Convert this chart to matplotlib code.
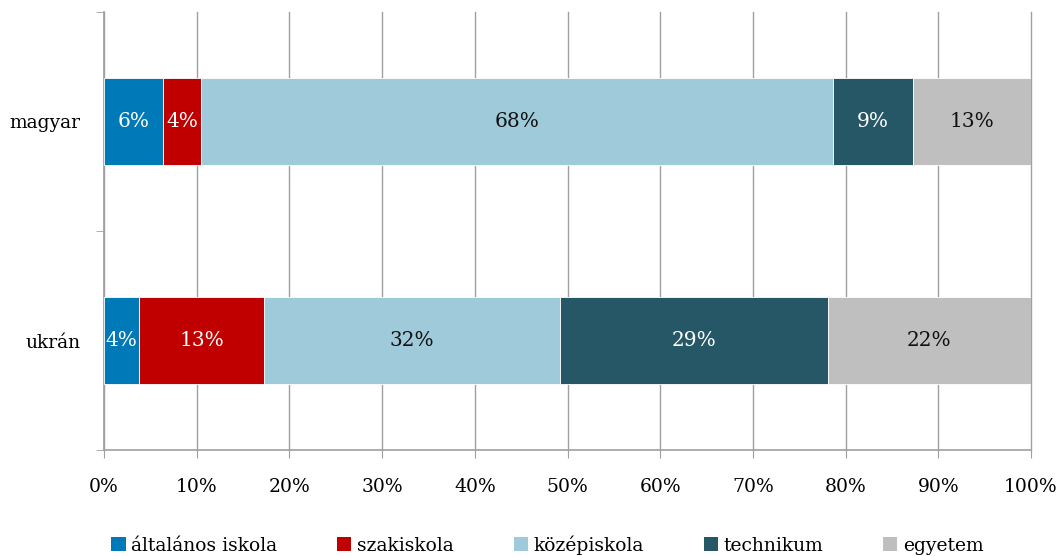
import numpy as np
import matplotlib.pyplot as plt
from matplotlib.patches import Patch

categories = ['magyar', 'ukrán']
series = ['általános iskola', 'szakiskola', 'középiskola', 'technikum', 'egyetem']
# shares (percent)
values = {
    'általános iskola': [6.4, 3.8],
    'szakiskola':       [4.1, 13.5],
    'középiskola':      [68.1, 31.9],
    'technikum':        [8.7, 28.9],
    'egyetem':          [12.7, 21.9],
}
labels = {
    'általános iskola': ['6%', '4%'],
    'szakiskola':       ['4%', '13%'],
    'középiskola':      ['68%', '32%'],
    'technikum':        ['9%', '29%'],
    'egyetem':          ['13%', '22%'],
}
colors = ['#0079B9', '#C00000', '#9FCAD9', '#265767', '#BFBFBF']
text_colors = ['white', 'white', '#111111', 'white', '#111111']
xticks = np.arange(0, 101, 10)

plt.rcParams['font.family'] = ['DejaVu Serif']

fig = plt.figure(figsize=(10.59, 5.56), dpi=100)
ax = fig.add_axes([104/1059, 1 - 450/556, (1031-104)/1059, 438/556])

ypos = np.arange(len(categories))
left = np.zeros(len(categories))
for s, c, tc in zip(series, colors, text_colors):
    v = np.array(values[s])
    ax.barh(ypos, v, left=left, height=0.4, color=c, edgecolor='white', linewidth=0.6, zorder=3)
    for y, l, w, lab in zip(ypos, left, v, labels[s]):
        ax.text(l + w/2, y, lab, ha='center', va='center', color=tc, fontsize=14.5, zorder=4)
    left += v

ax.set_ylim(1.5, -0.5)
ax.set_xlim(0, 100)
ax.set_yticks(ypos)
ax.set_yticklabels(categories, fontsize=13.5)
ax.set_yticks([-0.5, 0.5, 1.5], minor=True)
ax.tick_params(axis='y', which='major', length=0, pad=17)
ax.tick_params(axis='y', which='minor', length=6, color='#A0A0A0')
ax.set_xticks(xticks)
ax.set_xticklabels([f'{t}%' for t in xticks], fontsize=13.5)
ax.tick_params(axis='x', length=6, color='#A0A0A0', pad=14)
ax.grid(axis='x', color='#A0A0A0', lw=1, zorder=0)
for gl in ax.get_xgridlines():
    gl.set_clip_on(False)
for sp in ['top', 'right']:
    ax.spines[sp].set_visible(False)
for sp in ['left', 'bottom']:
    ax.spines[sp].set_color('#A0A0A0')
    ax.spines[sp].set_linewidth(1.2)

handles = [Patch(facecolor=c, edgecolor='none') for c in colors]
fig.legend(handles, series, loc='lower center', ncol=5, frameon=False,
           fontsize=13.5, bbox_to_anchor=(0.517, -0.028), handlelength=0.75,
           handleheight=0.75, handletextpad=0.3, columnspacing=3.2)

fig.savefig('out.png', dpi=100)
